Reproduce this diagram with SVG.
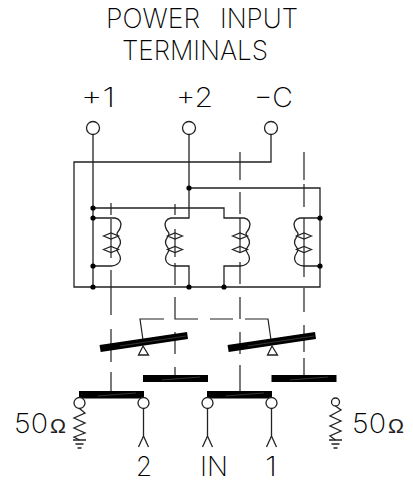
<svg xmlns="http://www.w3.org/2000/svg" width="413" height="483" viewBox="0 0 413 483">
<style>
.l{fill:none;stroke:#222;stroke-width:1.3}
.d{fill:none;stroke:#222;stroke-width:1.2}
.c{fill:#fff;stroke:#222;stroke-width:1.3}
.b{fill:#000;stroke:none}
.s{fill:none;stroke:#fff;stroke-width:.6;opacity:.35}
.t{font-family:"Inter","Liberation Sans",sans-serif;font-size:27px;fill:#000;font-weight:150}
.o{font-family:"Liberation Sans",sans-serif;font-size:21px;fill:#222}
</style>
<defs>
<circle id="dot" r="2.600" class="b"/>
<g id="coilR"><path class="l" d="M0 0H4C9 1 11 5 9.500 9C8.500 13 6 14 6 16C6 18 9.500 20 9.500 24.500C9.500 28 6 30 6 32C6 34 9.500 36 9.500 41C9 45 5 48 0 48"/><path class="d" d="M-7.500 18L0 15L7.500 18L0 21ZM-7.500 31.500L0 28.500L7.500 31.500L0 34.500Z"/></g>
<path id="ch" class="l" d="M-5 11L0 0L5 11"/>
<g id="gnd"><path class="l" d="M-6.500 0H6.500M-4 4H4M-2 8H2"/></g>
</defs>
<g id="labels">
<text class="t" x="106" y="28" textLength="94" lengthAdjust="spacingAndGlyphs">POWER</text>
<text class="t" x="220" y="28" textLength="78" lengthAdjust="spacingAndGlyphs">INPUT</text>
<text class="t" x="122" y="60" textLength="146" lengthAdjust="spacingAndGlyphs">TERMINALS</text>
<text class="t" x="81" y="107" textLength="34" lengthAdjust="spacingAndGlyphs">+1</text>
<text class="t" x="176" y="107" textLength="37" lengthAdjust="spacingAndGlyphs">+2</text>
<text class="t" x="254" y="107" textLength="39" lengthAdjust="spacingAndGlyphs">−C</text>
<text class="t" x="14" y="433" textLength="34" lengthAdjust="spacingAndGlyphs">50</text><text class="o" x="50" y="433" textLength="16" lengthAdjust="spacingAndGlyphs">Ω</text>
<text class="t" x="352" y="433" textLength="34" lengthAdjust="spacingAndGlyphs">50</text><text class="o" x="388" y="433" textLength="16" lengthAdjust="spacingAndGlyphs">Ω</text>
<text class="t" x="136" y="476" textLength="16" lengthAdjust="spacingAndGlyphs">2</text>
<text class="t" x="200" y="476" textLength="28" lengthAdjust="spacingAndGlyphs">IN</text>
<text class="t" x="265" y="476" textLength="12" lengthAdjust="spacingAndGlyphs">1</text>
</g>
<g id="connectors">
<path class="l" d="M93 134V287M189 134V218H175M271 134V162H74V287H320V188H189M93 208H224V218H240M93 218H111M93 266H111M175 266H189V287M224 287V266H240M304 218H320M304 266H320"/>
<path class="d" d="M111 203V215M111 219V258M111 270V315M111 329V362M111 372V392"/>
<path class="d" d="M175 204V215M175 229V257M175 263V285M175 297V319H198M175 332V354M175 367V376M164 319H140L143 340M210 319H233M245 319H268L271 340"/>
<path class="d" d="M240 152V180M240 192V214M240 218V252M240 262V284M240 297V319M240 332V354M240 365V392"/>
<path class="d" d="M304 152V180M304 184V207M304 218V277M304 288V312M304 325V352M304 358V376"/>
</g>
<g id="terminal-1"><circle class="c" cx="93" cy="128" r="6.500"/><use href="#dot" x="93" y="208"/><use href="#dot" x="93" y="218"/><use href="#dot" x="93" y="266"/><use href="#dot" x="93" y="287"/></g>
<g id="terminal-2"><circle class="c" cx="189" cy="128" r="6.500"/><use href="#dot" x="189" y="188"/><use href="#dot" x="189" y="287"/></g>
<g id="terminal-c"><circle class="c" cx="271" cy="128" r="6.500"/><use href="#dot" x="224" y="287"/><use href="#dot" x="320" y="218"/><use href="#dot" x="320" y="266"/></g>
<g id="coil-1"><use href="#coilR" transform="translate(111 218)"/></g>
<g id="coil-2"><use href="#coilR" transform="translate(175 218) scale(-1 1)"/></g>
<g id="coil-3"><use href="#coilR" transform="translate(240 218)"/></g>
<g id="coil-4"><use href="#coilR" transform="translate(304 218) scale(-1 1)"/></g>
<g id="lever-1"><path class="b" d="M99.500 345L187 332L188 339L100.700 352Z"/><path class="s" d="M120 346L186 336"/><path class="c" d="M143 346L148.500 355H138.500Z"/></g>
<g id="lever-2"><path class="b" d="M227.500 345L315 332L316 339L228.700 352Z"/><path class="s" d="M248 346L314 336"/><path class="c" d="M272 346L277.500 355H267.500Z"/></g>
<g id="contact-1"><rect class="b" x="143" y="375" width="65" height="7"/><path class="s" d="M162 380L200 377"/></g>
<g id="contact-2"><rect class="b" x="271.500" y="375" width="65" height="7"/><path class="s" d="M290 380L328 377"/></g>
<g id="contact-3"><rect class="b" x="79" y="391" width="65" height="7.500"/><path class="s" d="M98 396L136 393"/></g>
<g id="contact-4"><rect class="b" x="207" y="391" width="65" height="7.500"/><path class="s" d="M226 396L264 393"/></g>
<g id="load-left"><circle class="c" cx="79.500" cy="403" r="5.500"/><path class="l" d="M79.500 408.500L85 413L74 418L85 423L74 428L85 433L74 437L79.500 440"/><use href="#gnd" x="79.500" y="440"/></g>
<g id="load-right"><circle class="c" cx="335.500" cy="402" r="4"/><path class="l" d="M335.500 406L341 410L330 416L341 421L330 426L341 431L330 436L335.500 440"/><use href="#gnd" x="335.500" y="440"/></g>
<g id="port-2"><circle class="c" cx="143.500" cy="403" r="5.500"/><path class="l" d="M143.500 408.500V436"/><use href="#ch" x="143.500" y="436"/></g>
<g id="port-in"><circle class="c" cx="207.500" cy="403" r="5.500"/><path class="l" d="M207.500 408.500V436"/><use href="#ch" x="207.500" y="436"/></g>
<g id="port-1"><circle class="c" cx="271.500" cy="403" r="5.500"/><path class="l" d="M271.500 408.500V436"/><use href="#ch" x="271.500" y="436"/></g>
</svg>
